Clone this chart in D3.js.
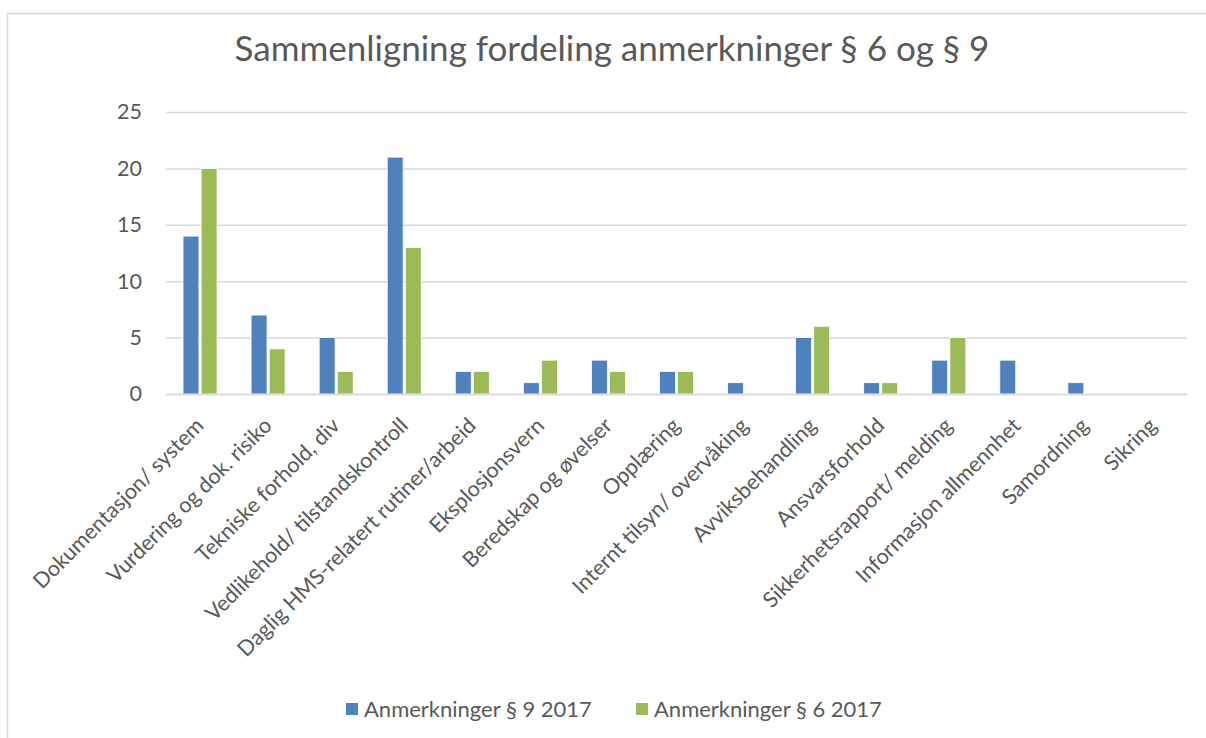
<!DOCTYPE html>
<html>
<head>
<meta charset="utf-8">
<script src="https://cdn.jsdelivr.net/npm/d3@7"></script>
<style>
  body { margin: 0; background: #fff; }
  text { font-family: Lato, 'Open Sans', sans-serif; fill: #595959; }
</style>
</head>
<body>
<div id="chart"></div>
<script>
let categories = [
  'Dokumentasjon/ system',
  'Vurdering og dok. risiko',
  'Tekniske forhold, div',
  'Vedlikehold/ tilstandskontroll',
  'Daglig HMS-relatert rutiner/arbeid',
  'Eksplosjonsvern',
  'Beredskap og øvelser',
  'Opplæring',
  'Internt tilsyn/ overvåking',
  'Avviksbehandling',
  'Ansvarsforhold',
  'Sikkerhetsrapport/ melding',
  'Informasjon allmennhet',
  'Samordning',
  'Sikring'
]
let seriesNames = ['Anmerkninger § 9 2017', 'Anmerkninger § 6 2017']
let values9 = [14, 7, 5, 21, 2, 1, 3, 2, 1, 5, 1, 3, 3, 1, 0]
let values6 = [20, 4, 2, 13, 2, 3, 2, 2, 0, 6, 1, 5, 0, 0, 0]
let yTicks = [0, 5, 10, 15, 20, 25]

let width = 1206
let height = 738
let margin = { top: 112, left: 166, right: 19, bottom: 344 }

let svg = d3
  .select('#chart')
  .append('svg')
  .attr('width', width)
  .attr('height', height)

// outer chart border
svg
  .append('rect')
  .attr('x', 7.5)
  .attr('y', 13.5)
  .attr('width', width + 20)
  .attr('height', height + 20)
  .attr('fill', 'none')
  .attr('stroke', '#d9d9d9')
  .attr('stroke-width', 1.5)

let xPositionScale = d3
  .scaleBand()
  .domain(categories)
  .range([margin.left, width - margin.right])

let innerScale = d3
  .scaleBand()
  .domain(seriesNames)
  .range([xPositionScale.bandwidth() * 0.25, xPositionScale.bandwidth() * 0.75])
  .paddingInner(0.12)

let yPositionScale = d3
  .scaleLinear()
  .domain([0, 25])
  .range([height - margin.bottom, margin.top])

let colorScale = d3
  .scaleOrdinal()
  .domain(seriesNames)
  .range(['#4f81bd', '#9bbb59'])

// gridlines + y labels
let yAxis = d3
  .axisLeft(yPositionScale)
  .tickValues(yTicks)
  .tickSize(-(width - margin.left - margin.right))
  .tickPadding(24)

let yg = svg
  .append('g')
  .attr('class', 'axis y-axis')
  .attr('transform', 'translate(' + margin.left + ',0)')
  .call(yAxis)
yg.select('.domain').remove()
yg.selectAll('line').attr('stroke', '#d9d9d9').attr('stroke-width', 1.5)
yg.selectAll('text')
  .attr('font-size', 21.5)
  .style('font-family', 'Lato, sans-serif')
  .attr('fill', '#595959')

let data = categories.map((c, i) => ({
  category: c,
  values: [
    { name: seriesNames[0], value: values9[i] },
    { name: seriesNames[1], value: values6[i] }
  ]
}))

let groups = svg
  .selectAll('.cat')
  .data(data)
  .enter()
  .append('g')
  .attr('class', 'cat')
  .attr('transform', d => 'translate(' + xPositionScale(d.category) + ',0)')

groups
  .selectAll('rect')
  .data(d => d.values.filter(v => v.value > 0))
  .enter()
  .append('rect')
  .attr('x', d => innerScale(d.name))
  .attr('width', innerScale.bandwidth())
  .attr('y', d => yPositionScale(d.value))
  .attr('height', d => yPositionScale(0) - yPositionScale(d.value))
  .attr('fill', d => colorScale(d.name))
  .attr('stroke', '#fff')
  .attr('stroke-width', 0.8)

// x labels
let xAxis = d3.axisBottom(xPositionScale).tickSize(0).tickPadding(0)
let xg = svg
  .append('g')
  .attr('class', 'axis x-axis')
  .attr('transform', 'translate(0,' + yPositionScale(0) + ')')
  .call(xAxis)
xg.select('.domain').attr('stroke', '#d9d9d9').attr('stroke-width', 1.5)
xg.selectAll('text')
  .attr('font-size', 21.5)
  .style('font-family', 'Lato, sans-serif')
  .attr('fill', '#595959')
  .attr('text-anchor', 'end')
  .attr('dy', 0)
  .attr('y', 0)
  .attr('transform', 'translate(5,33) rotate(-45)')

// title
svg
  .append('text')
  .attr('x', 612)
  .attr('y', 61)
  .attr('text-anchor', 'middle')
  .attr('font-size', 35)
  .text('Sammenligning fordeling anmerkninger § 6 og § 9')

// legend
let legendX = d3.scaleBand().domain(seriesNames).range([346, 926])
let legend = svg
  .selectAll('.legend')
  .data(seriesNames)
  .enter()
  .append('g')
  .attr('class', 'legend')
  .attr('transform', d => 'translate(' + legendX(d) + ',703)')
legend
  .append('rect')
  .attr('width', 12)
  .attr('height', 12)
  .attr('fill', d => colorScale(d))
legend
  .append('text')
  .attr('x', 18)
  .attr('y', 14)
  .attr('font-size', 22)
  .text(d => d)
</script>
</body>
</html>
